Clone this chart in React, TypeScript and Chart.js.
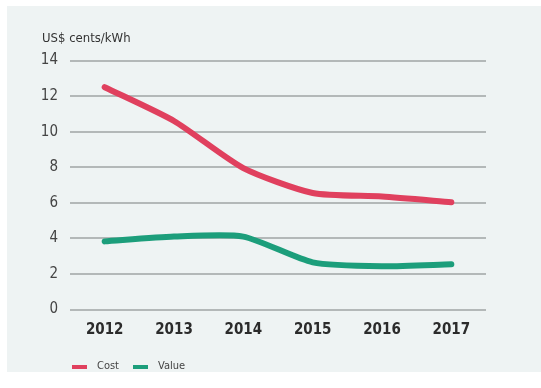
import React, { useEffect, useRef } from "react";
import { Chart, registerables } from "chart.js";

Chart.register(...registerables);

const years = ["2012", "2013", "2014", "2015", "2016", "2017"];
const costValues = [12.5, 10.6, 7.95, 6.55, 6.35, 6.03];
const valueValues = [3.83, 4.1, 4.1, 2.65, 2.43, 2.54];
const yMin = 0;
const yMax = 14;
const yStep = 2;
const unitLabel = "US$ cents/kWh";
const seriesNames = ["Cost", "Value"];
const seriesColors = ["#e0405e", "#1c9e7b"];

const FONT = "'Liberation Sans Narrow', 'DejaVu Sans Condensed', 'Liberation Sans', sans-serif";

function makeSwatch(color: string): HTMLCanvasElement {
  const c = document.createElement("canvas");
  c.width = 15;
  c.height = 4;
  const ctx = c.getContext("2d")!;
  ctx.fillStyle = color;
  ctx.fillRect(0, 0, 15, 4);
  return c;
}

export default function App() {
  const ref = useRef<HTMLCanvasElement | null>(null);

  useEffect(() => {
    if (!ref.current) return;
    const swatches = seriesColors.map(makeSwatch);
    const unitPlugin = {
      id: "unitLabel",
      afterLayout(chart: any) {
        const lg = chart.legend;
        if (lg) {
          const shift = 51 - lg.left;
          lg.left += shift;
          lg.right += shift;
        }
      },
      afterDraw(chart: any) {
        const ctx = chart.ctx;
        ctx.save();
        ctx.font = `13px ${FONT}`;
        ctx.fillStyle = "#333333";
        ctx.textAlign = "left";
        ctx.textBaseline = "middle";
        ctx.fillText(unitLabel, 35, 32.5);
        ctx.restore();
      },
    };
    const chart = new Chart(ref.current, {
      type: "line",
      data: {
        labels: years,
        datasets: [
          {
            label: seriesNames[0],
            data: costValues,
            borderColor: seriesColors[0],
            backgroundColor: seriesColors[0],
            borderWidth: 6,
            pointRadius: 0,
            tension: 0.22,
            borderCapStyle: "round",
            borderJoinStyle: "round",
            fill: false,
          },
          {
            label: seriesNames[1],
            data: valueValues,
            borderColor: seriesColors[1],
            backgroundColor: seriesColors[1],
            borderWidth: 6,
            pointRadius: 0,
            tension: 0.22,
            borderCapStyle: "round",
            borderJoinStyle: "round",
            fill: false,
          },
        ],
      },
      options: {
        animation: false,
        responsive: true,
        maintainAspectRatio: false,
        layout: { padding: { left: 28, right: 55, top: 54.5, bottom: 0 } },
        plugins: {
          tooltip: { enabled: false },
          title: { display: false },
          legend: {
            position: "bottom",
            align: "start",
            labels: {
              usePointStyle: true,
              pointStyleWidth: 24,
              boxHeight: 11,
              padding: 9.5,
              color: "#444444",
              font: { family: FONT, size: 11 },
              generateLabels(chart: any) {
                const items = Chart.defaults.plugins.legend.labels.generateLabels(chart);
                return items.map((it: any, i: number) => ({ ...it, pointStyle: swatches[i], lineWidth: 0 }));
              },
            },
          },
        },
        scales: {
          x: {
            offset: true,
            grid: { display: false, drawTicks: false },
            border: { display: false },
            ticks: {
              padding: 12,
              color: "#2b2b2b",
              font: { family: FONT, size: 15, weight: "bold" },
            },
          },
          y: {
            min: yMin,
            max: yMax,
            afterFit(scale: any) {
              scale.width = 35;
            },
            grid: { color: "#b3b8b8", lineWidth: 2, drawTicks: false },
            border: { display: false },
            ticks: {
              stepSize: yStep,
              padding: 12,
              color: "#444444",
              font: { family: FONT, size: 15 },
            },
          },
        },
      },
      plugins: [unitPlugin],
    } as any);
    return () => chart.destroy();
  }, []);

  return (
    <>
      <div
        style={{
          position: "fixed",
          left: 7,
          top: 6,
          width: 534,
          height: 366,
          background: "#eef3f3",
        }}
      />
      <div
        style={{
          position: "fixed",
          left: 7,
          top: 6,
          width: 534,
          height: 376,
        }}
      >
        <canvas ref={ref} />
      </div>
    </>
  );
}
